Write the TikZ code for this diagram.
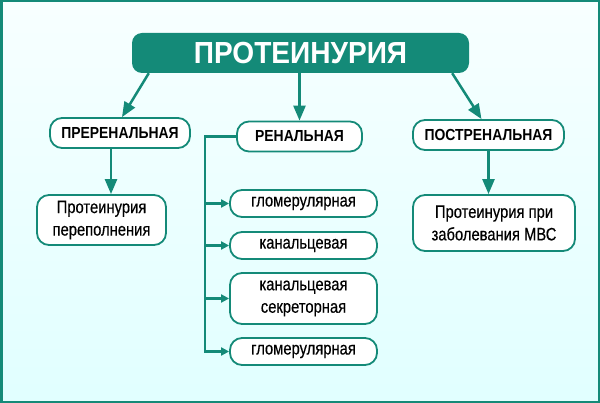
\documentclass[tikz,border=0pt]{standalone}
\usepackage{fontspec}
\setmainfont{Liberation Sans}
\newfontfamily\titlefont{Liberation Sans}[FakeStretch=0.92]
\newfontfamily\capsfont{Liberation Sans}[FakeStretch=0.87]
\newfontfamily\bodyfont{Liberation Sans}[FakeStretch=0.82,FakeBold=0.4]
\usetikzlibrary{arrows.meta}
\definecolor{teal}{RGB}{20,138,120}

\begin{document}
\begin{tikzpicture}[x=1pt,y=-1pt,
	box/.style={draw=teal,line width=1.8pt,fill=white,rounded corners=12pt,inner sep=0pt,align=center,font=\fontsize{18}{22.5}\bodyfont},
	head/.style={box,font=\fontsize{16}{18}\capsfont\bfseries,minimum height=30pt},
	bigarrow/.style={draw=teal,line width=2.5pt,-{Triangle[length=15pt,width=12pt]}},
	smallarrow/.style={draw=teal,line width=2.2pt,-{Triangle[length=8pt,width=8pt]}}]
\useasboundingbox (0,0) rectangle (600,403);
\shade[top color=white!90!cyan!30,bottom color=cyan!12] (0,0) rectangle (600,403);
\draw[teal,line width=2.5pt] (1.25,1.25) rectangle (598.75,401.75);
\node[fill=teal,rounded corners=10pt,minimum width=337pt,minimum height=40pt,text=white,font=\fontsize{30.5}{30}\titlefont\bfseries] (title) at (300.5,53) {ПРОТЕИНУРИЯ};
\node[head,minimum width=140pt] (pre) at (120,133) {ПРЕРЕНАЛЬНАЯ};
\node[head,minimum width=125pt] (ren) at (299.5,136.5) {РЕНАЛЬНАЯ};
\node[head,minimum width=151pt] (post) at (488.5,135) {ПОСТРЕНАЛЬНАЯ};
\node[box,minimum width=129pt,minimum height=50pt] (over) at (101.5,220) {Протеинурия\\переполнения};
\node[box,minimum width=162pt,minimum height=56pt] (mvs) at (494,223) {Протеинурия при\\заболевания МВС};
\node[box,minimum width=147pt,minimum height=27pt] (glom1) at (303.5,203.5) {гломерулярная};
\node[box,minimum width=147pt,minimum height=27pt] (kan) at (303.5,245.5) {канальцевая};
\node[box,minimum width=147pt,minimum height=51pt] (sekr) at (303.5,298.5) {канальцевая\\секреторная};
\node[box,minimum width=147pt,minimum height=27pt] (glom2) at (303.5,351.5) {гломерулярная};
\draw[bigarrow] ([xshift=17pt]title.south west) -- ([xshift=2pt]pre.north);
\draw[bigarrow] (title.south -| ren.north) -- (ren.north);
\draw[bigarrow] ([xshift=-17pt]title.south east) -- ([xshift=-7pt]post.north);
\draw[bigarrow] ([xshift=-9pt]pre.south) -- ([xshift=-9pt]pre.south |- over.north);
\draw[bigarrow] (post.south) -- (post.south |- mvs.north);
\draw[smallarrow] (ren.west) -- ++(-31,0) coordinate (bus) |- (glom2.west);
\draw[smallarrow] (bus |- glom1.west) -- (glom1.west);
\draw[smallarrow] (bus |- kan.west) -- (kan.west);
\draw[smallarrow] (bus |- sekr.west) -- (sekr.west);
\end{tikzpicture}
\end{document}
